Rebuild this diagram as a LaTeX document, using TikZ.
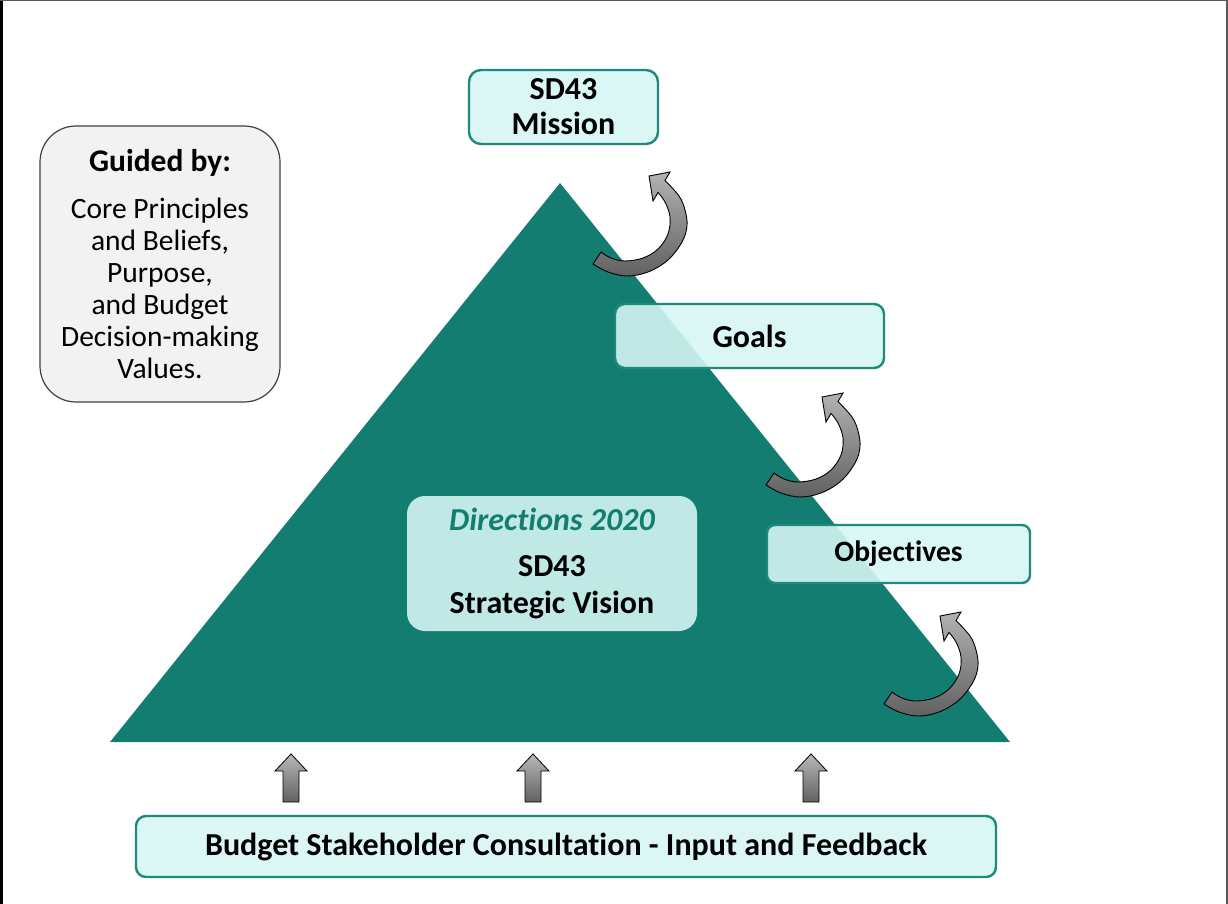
\documentclass[tikz,border=0pt]{standalone}
\usepackage{fontspec}
\setmainfont{Carlito}[Ligatures=NoCommon]
\definecolor{teal1}{RGB}{19,125,114}
\definecolor{tealedge}{RGB}{30,138,126}
\definecolor{cyanfill}{RGB}{214,247,245}
\definecolor{guidefill}{RGB}{242,242,242}
\definecolor{guideedge}{RGB}{64,64,64}
\tikzset{
  cbox/.style={draw=tealedge, line width=2.4pt, fill=cyanfill, fill opacity=0.89, text opacity=1,
    rounded corners=10pt, inner sep=0pt, align=center, font=\fontsize{32}{35}\selectfont\bfseries},
  upar/.style={draw=black, line width=0.8pt, top color=black!28, bottom color=black!62},
  carrow/.style={draw=black, line width=0.9pt, top color=black!30, bottom color=black!62},
}
\newcommand\mycurvearrow[1]{%
  \begin{scope}[shift={#1}]
    \draw[carrow] plot[smooth,tension=0.6] coordinates {(0,92) (15,100) (34,104) (55,100) (75,88) (89,70) (94,54) (92,38) (86,24) (72,8.5)}
      -- (77,0) -- (56,4) -- (60,29)
      -- plot[smooth,tension=0.6] coordinates {(65,20.5) (72,30) (77,45) (75,62) (65,77) (50,86) (32,89) (18,86) (8,80)} -- cycle;
  \end{scope}}
\newcommand\myuparrow[1]{%
  \begin{scope}[shift={(#1,0)}]
    \draw[upar] (-8,802) -- (-8,771) -- (-16,771) -- (0,754) -- (16,771) -- (8,771) -- (8,802) -- cycle;
  \end{scope}}
\begin{document}
\begin{tikzpicture}[x=1pt,y=-1pt]
\useasboundingbox (0,0) rectangle (1228,904);
\fill[white] (0,0) rectangle (1228,904);
% frame
\draw[black, line width=3pt] (1.5,0) -- (1.5,904);
\draw[black!65, line width=1.5pt] (0,0.75) -- (1228,0.75);
\draw[black!65, line width=2pt] (1226.5,0) -- (1226.5,904);
% triangle
\fill[teal1] (560,183) -- (1010,742) -- (110,742) -- cycle;
% curved arrows
\mycurvearrow{(593,172)}
\mycurvearrow{(766,393)}
\mycurvearrow{(884,612)}
% up arrows
\myuparrow{291}
\myuparrow{533}
\myuparrow{811}
% boxes
\node[cbox, rounded corners=12pt, minimum width=189pt, minimum height=74pt] (mission) at (563.5,107) {SD43\\Mission};
\node[cbox, minimum width=269pt, minimum height=64pt] (goals) at (749.5,336) {Goals};
\node[cbox, rounded corners=8pt, minimum width=263pt, minimum height=58pt, font=\fontsize{29.5}{33}\selectfont\bfseries] (objectives) at (898.5,554) {Objectives};
\node[cbox, draw=none, rounded corners=18pt, minimum width=290pt, minimum height=135pt, font=\fontsize{32}{37}\selectfont\bfseries] (vision) at (552,563.5)
  {\textcolor{teal1}{\itshape Directions 2020}\\[9pt]SD43\\Strategic Vision};
\node[draw=guideedge, line width=1.2pt, fill=guidefill, rounded corners=36pt, minimum width=240pt, minimum height=276pt,
  inner sep=0pt, align=center, font=\fontsize{29.5}{32}\selectfont] (guided) at (160,264)
  {{\fontsize{31.5}{32}\selectfont\bfseries Guided by:}\\[15pt]Core Principles\\and Beliefs,\\Purpose,\\and Budget\\Decision-making\\Values.};
\node[cbox, minimum width=860pt, minimum height=61pt] (consult) at (566,846.5) {Budget Stakeholder Consultation - Input and Feedback};
\end{tikzpicture}
\end{document}
